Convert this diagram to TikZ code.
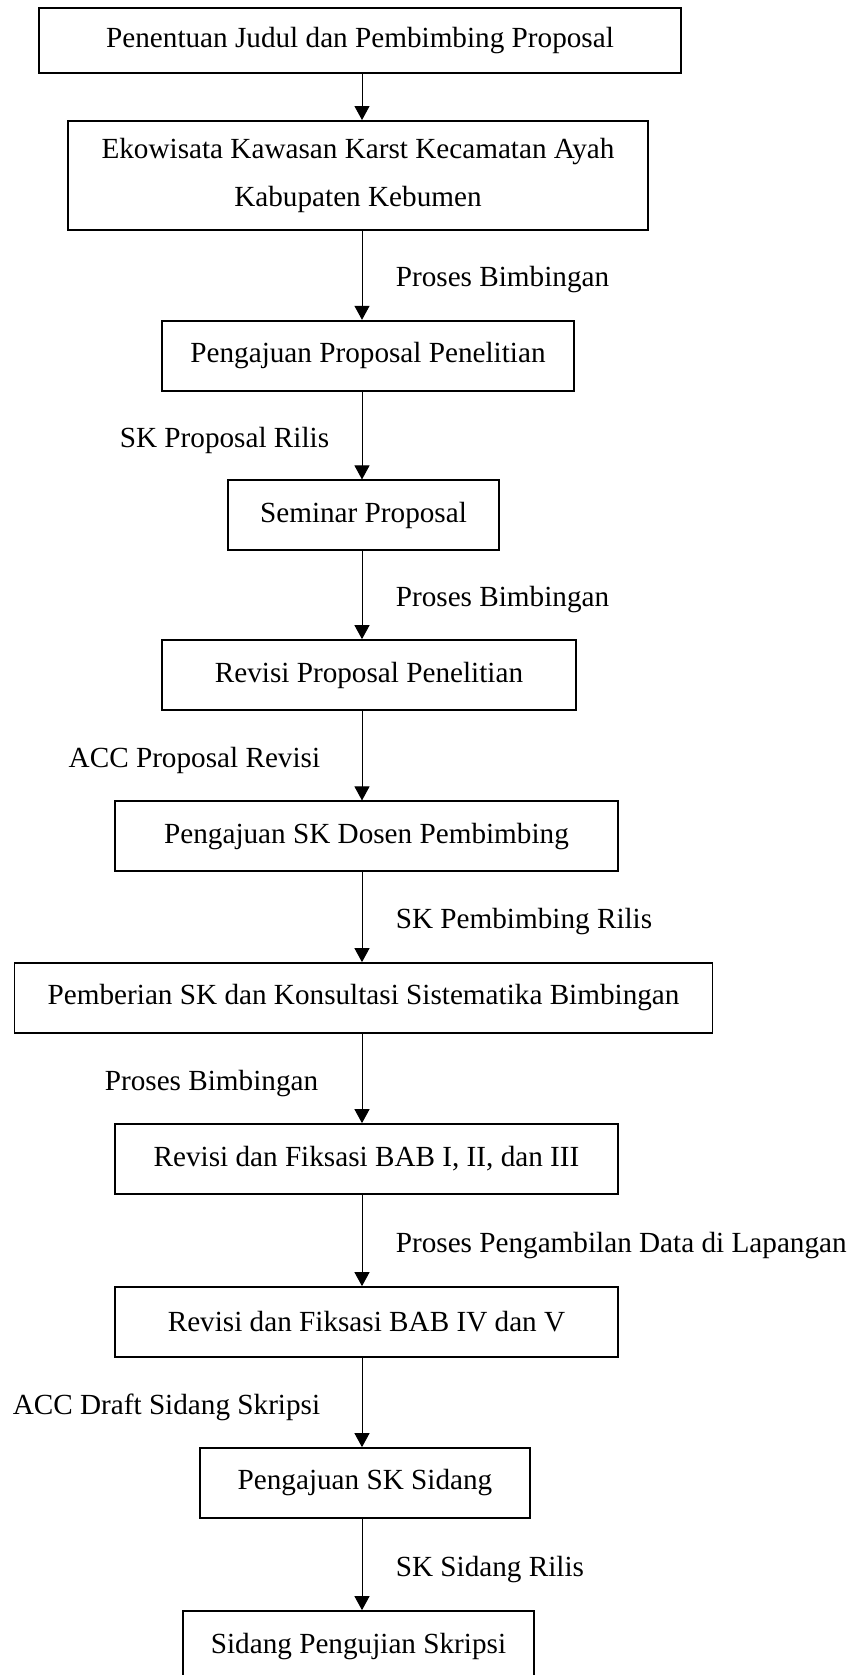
\documentclass[tikz,border=0pt]{standalone}
\usepackage{fontspec}
\setmainfont{Liberation Serif}
\usetikzlibrary{arrows.meta,positioning}

\begin{document}
\begin{tikzpicture}[x=1pt, y=-1pt, font=\fontsize{29.2}{35}\selectfont, line width=1pt,
  >={Triangle[length=14pt, width=15pt]},
  box/.style={draw, line width=1.7pt, minimum height=70pt, inner sep=0pt},
  lbr/.style={anchor=base west, xshift=30pt, yshift=-11.6pt},
  lbl/.style={anchor=base east, xshift=-#1, yshift=-11.6pt}, lbl/.default=38pt]
  \useasboundingbox (0,0) rectangle (848,1675);
  \coordinate (axis) at (362,0);
  % boxes
  \node[box, minimum width=642pt, minimum height=64.4pt] (judul) at (360,40.5) {Penentuan Judul dan Pembimbing Proposal};
  \node[box, minimum width=580pt, minimum height=109pt, align=center, font=\fontsize{29.2}{48}\selectfont] (ekowisata) at (358,175.4) {Ekowisata Kawasan Karst Kecamatan Ayah\\Kabupaten Kebumen};
  \node[box, minimum width=412pt] (pengajuan) at (368,355.7) {Pengajuan Proposal Penelitian};
  \node[box, minimum width=271pt] (seminar) at (363.5,515.3) {Seminar Proposal};
  \node[box, minimum width=414pt] (revisi) at (369,675) {Revisi Proposal Penelitian};
  \node[box, minimum width=503pt] (skdosen) at (366.5,836.3) {Pengajuan SK Dosen Pembimbing};
  \node[box, minimum width=698pt] (pemberian) at (363.6,998) {Pemberian SK dan Konsultasi Sistematika Bimbingan};
  \node[box, minimum width=503pt] (babtiga) at (366.5,1159) {Revisi dan Fiksasi BAB I, II, dan III};
  \node[box, minimum width=503pt] (bablima) at (366.5,1322) {Revisi dan Fiksasi BAB IV dan V};
  \node[box, minimum width=330pt] (sksidang) at (365,1483) {Pengajuan SK Sidang};
  \node[box, minimum width=351pt] (sidang) at (358.5,1646) {Sidang Pengujian Skripsi};
  % arrows
  \draw[->] (judul.south -| axis) -- (ekowisata.north -| axis);
  \draw[->] (ekowisata.south -| axis) -- node[lbr] (l1) {Proses Bimbingan} (pengajuan.north -| axis);
  \draw[->] (pengajuan.south -| axis) -- node[lbl=29pt] (l2) {SK Proposal Rilis} (seminar.north -| axis);
  \draw[->] (seminar.south -| axis) -- node[lbr] (l3) {Proses Bimbingan} (revisi.north -| axis);
  \draw[->] (revisi.south -| axis) -- node[lbl] (l4) {ACC Proposal Revisi} (skdosen.north -| axis);
  \draw[->] (skdosen.south -| axis) -- node[lbr] (l5) {SK Pembimbing Rilis} (pemberian.north -| axis);
  \draw[->] (pemberian.south -| axis) -- node[lbl=40pt] (l6) {Proses Bimbingan} (babtiga.north -| axis);
  \draw[->] (babtiga.south -| axis) -- node[lbr] (l7) {Proses Pengambilan Data di Lapangan} (bablima.north -| axis);
  \draw[->] (bablima.south -| axis) -- node[lbl] (l8) {ACC Draft Sidang Skripsi} (sksidang.north -| axis);
  \draw[->] (sksidang.south -| axis) -- node[lbr] (l9) {SK Sidang Rilis} (sidang.north -| axis);
\end{tikzpicture}
\end{document}
